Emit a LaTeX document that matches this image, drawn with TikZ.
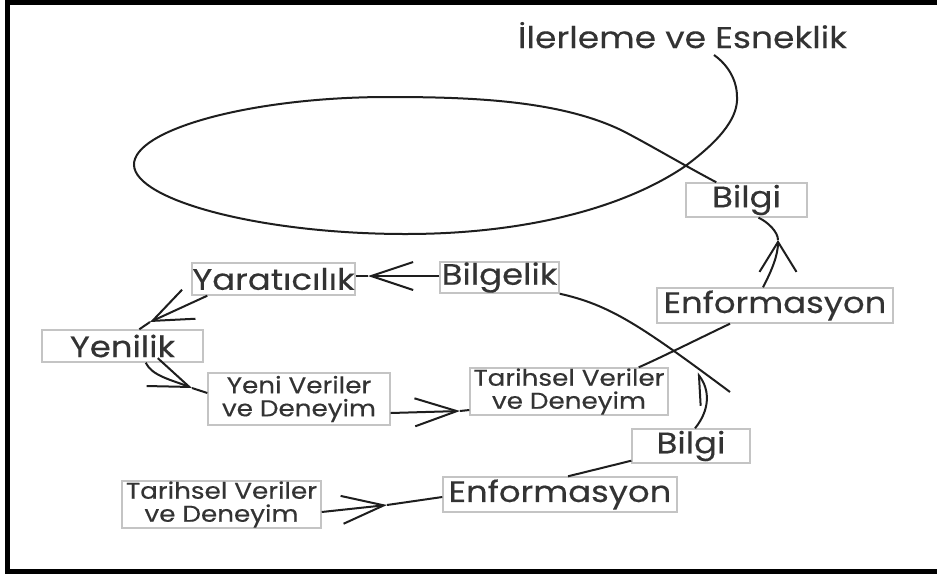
\documentclass[tikz,border=0pt]{standalone}
\usepackage{fontspec}
\setmainfont[FakeStretch=1.15,FakeBold=0.3]{Poppins}
\usetikzlibrary{arrows.meta}
\definecolor{ink}{HTML}{1E1E1E}
\definecolor{txt}{HTML}{333333}
\definecolor{boxgray}{HTML}{C4C4C4}
\begin{document}
\begin{tikzpicture}[x=1pt,y=-1pt,
  box/.style={draw=boxgray, line width=1.4pt, inner sep=0pt, text=txt,
    font=\fontsize{29.5}{30}\selectfont, align=center},
  box2/.style={box, font=\fontsize{22.8}{23}\selectfont},
  ln/.style={draw=ink, line width=2pt},
  barbA/.style={-{Straight Barb[length=30pt,width=37pt,line width=2pt]}},
  barbB/.style={-{Straight Barb[length=42pt,width=28pt,line width=2pt]}},
  barbH/.style={-{Straight Barb[harpoon,length=25pt,width=34pt,line width=2pt]}},
  titlestyle/.style={text=txt, inner sep=0pt, font=\fontsize{30}{30}\selectfont}
]
\useasboundingbox (0,0) rectangle (937,574);
\clip (0,0) rectangle (937,574);
\fill[white] (0,0) rectangle (937,574);
\draw[line width=5pt, black] (950,2) -- (7,2) -- (7,571.5) -- (950,571.5);

% nodes
\node[titlestyle, anchor=base] (title) at (682.5,48) {İlerleme ve Esneklik};
\node[box, minimum width=121pt, minimum height=34pt] (bilgi1) at (746.5,200) {Bilgi};
\node[box, minimum width=236pt, minimum height=35pt] (enf1) at (775,305.5) {Enformasyon};
\node[box, minimum width=119pt, minimum height=31pt] (bilgelik) at (499.5,277.5) {Bilgelik};
\node[box, minimum width=163pt, minimum height=32pt] (yarat) at (273.5,279) {Yaratıcılık};
\node[box, minimum width=161pt, minimum height=32pt] (yenilik) at (122.5,346) {Yenilik};
\node[box2, minimum width=182pt, minimum height=52pt] (yeni) at (299,399) {Yeni Veriler\\ve Deneyim};
\node[box2, minimum width=198pt, minimum height=47pt] (tar1) at (569,391.5) {Tarihsel Veriler\\ve Deneyim};
\node[box, minimum width=118pt, minimum height=34pt] (bilgi2) at (691,446) {Bilgi};
\node[box, minimum width=234pt, minimum height=35pt] (enf2) at (560,494.5) {Enformasyon};
\node[box2, minimum width=199pt, minimum height=47pt] (tar2) at (221.5,504.5) {Tarihsel Veriler\\ve Deneyim};

% free coordinates
\coordinate (loopend) at (714,55);
\coordinate (t1) at (778,240);
\coordinate (t2) at (368,276);
\coordinate (t3) at (150,322);
\coordinate (t4) at (192,388);
\coordinate (t5) at (460,411);
\coordinate (t6) at (387,505);
\coordinate (t7) at (697,373);
\coordinate (bcend) at (730,392);

% loop from upper Bilgi
\draw[ln] ([xshift=31pt]bilgi1.north west) .. controls (680,163) and (650,145) .. (623,131)
  .. controls (560,100) and (470,97) .. (388,97)
  .. controls (250,97) and (133,130) .. (134,165)
  .. controls (135,200) and (260,234) .. (406,234)
  .. controls (520,234) and (620,210) .. (684,167)
  .. controls (725,137) and (738,115) .. (737,97)
  .. controls (737,80) and (728,65) .. (loopend);

% Enformasyon (upper) -> Bilgi (upper)
\draw[ln, barbA] ([xshift=-12pt]enf1.north) .. controls (772,270) and (778,255) .. (t1);
\draw[ln] (t1) .. controls (778,232) and (768,222) .. ([xshift=12pt]bilgi1.south);

% Bilgelik -> Yaratıcılık
\draw[ln, barbB] ([yshift=1.5pt]bilgelik.west) -- (t2);
\draw[ln] (t2) -- ([yshift=3pt]yarat.east);

% Yaratıcılık -> Yenilik
\draw[ln, -{Straight Barb[length=40pt,width=32pt,line width=2pt]}] ([xshift=16pt]yarat.south west) -- (t3);
\draw[ln] (t3) -- ([xshift=98pt]yenilik.north west);

% Yenilik -> Yeni Veriler
\draw[ln, -{Straight Barb[length=40pt,width=30pt,line width=2pt]}] ([xshift=-58pt]yenilik.south east) .. controls (152,376) and (172,380) .. (t4);
\draw[ln] (t4) -- ([yshift=6pt]yeni.west);

% Yeni Veriler -> Tarihsel (middle)
\draw[ln, barbB] ([yshift=-14pt]yeni.east) -- (t5);
\draw[ln] (t5) -- ([yshift=-18.5pt]tar1.west);

% Tarihsel (lower) -> Enformasyon (lower)
\draw[ln, barbB] ([yshift=-7.5pt]tar2.east) -- (t6);
\draw[ln] (t6) -- ([yshift=-2.5pt]enf2.west);

% Enformasyon (lower) -> Bilgi (lower)
\draw[ln] ([xshift=8pt]enf2.north) -- ([yshift=3pt]bilgi2.south west);

% Bilgi (lower) -> up
\draw[ln, barbH] ([xshift=4pt]bilgi2.north) .. controls (710,410) and (710,390) .. (t7);

% Bilgelik curve
\draw[ln] (bilgelik.south east) .. controls (610,305) and (640,325) .. (bcend);

% Tarihsel (middle) -> Enformasyon (upper)
\draw[ln] ([xshift=-30pt]tar1.north east) .. controls (660,358) and (700,338) .. ([xshift=-45pt]enf1.south);
\end{tikzpicture}
\end{document}
